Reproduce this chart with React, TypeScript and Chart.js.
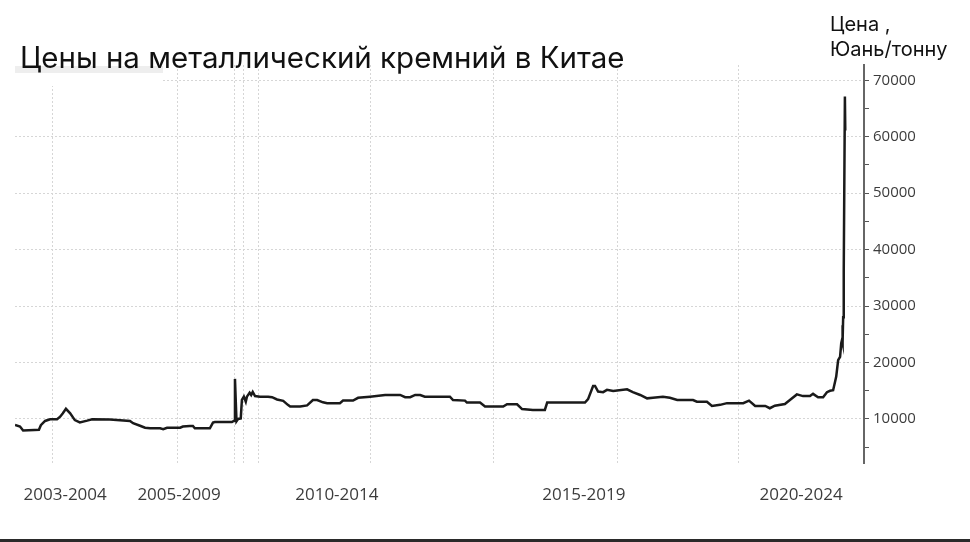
import { useEffect, useRef } from "react"
import { Chart, registerables } from "chart.js"

Chart.register(...registerables)

// decimal years of each reading
const dates = [
  2003.0, 2003.13, 2003.21, 2003.5, 2003.62, 2003.67, 2003.78, 2003.91, 2004.09, 2004.17,
  2004.24, 2004.32, 2004.43, 2004.55, 2004.68, 2004.87, 2005.0, 2005.46, 2005.98, 2006.06,
  2006.24, 2006.37, 2006.5, 2006.76, 2006.84, 2006.94, 2007.28, 2007.35, 2007.53, 2007.61,
  2007.66, 2008.05, 2008.13, 2008.18, 2008.62, 2008.68, 2008.7, 2008.74, 2008.78, 2008.85,
  2008.88, 2008.93, 2008.98, 2009.01, 2009.08, 2009.12, 2009.16, 2009.22, 2009.35, 2009.56,
  2009.66, 2009.79, 2009.95, 2010.07, 2010.13, 2010.39, 2010.57, 2010.72, 2010.83, 2010.98,
  2011.09, 2011.42, 2011.5, 2011.76, 2011.89, 2012.2, 2012.59, 2012.98, 2013.11, 2013.24,
  2013.37, 2013.5, 2013.62, 2014.27, 2014.35, 2014.66, 2014.71, 2015.05, 2015.18, 2015.65,
  2015.75, 2016.01, 2016.14, 2016.42, 2016.73, 2016.79, 2017.77, 2017.85, 2017.98, 2018.03,
  2018.11, 2018.24, 2018.34, 2018.5, 2018.86, 2019.01, 2019.2, 2019.38, 2019.53, 2019.79,
  2019.97, 2020.16, 2020.57, 2020.67, 2020.93, 2021.06, 2021.27, 2021.45, 2021.87, 2022.02,
  2022.18, 2022.44, 2022.56, 2022.69, 2022.95, 2023.08, 2023.26, 2023.42, 2023.6, 2023.68,
  2023.81, 2023.94, 2024.04, 2024.12, 2024.2, 2024.25, 2024.28, 2024.33, 2024.38, 2024.41,
  2024.43, 2024.44, 2024.45, 2024.46, 2024.47, 2024.48, 2024.505, 2024.515,
]

// юань за тонну
const prices = [
  8950, 8650, 7950, 8050, 8100, 8900, 9650, 9950, 9950, 10400,
  11000, 11800, 11000, 9800, 9400, 9700, 9950, 9900, 9650, 9250,
  8800, 8450, 8350, 8350, 8200, 8450, 8450, 8650, 8750, 8750,
  8350, 8350, 9350, 9450, 9450, 9700, 17100, 9600, 10000, 10100,
  13400, 13950, 13050, 13950, 14650, 14250, 14800, 14050, 13950, 13950,
  13850, 13450, 13200, 12500, 12200, 12200, 12400, 13350, 13350, 12950,
  12800, 12800, 13250, 13250, 13750, 13950, 14250, 14250, 13850, 13850,
  14250, 14250, 13950, 13950, 13350, 13250, 12900, 12900, 12200, 12200,
  12600, 12600, 11750, 11600, 11600, 12900, 12900, 13500, 15850, 15850,
  14850, 14750, 15150, 14950, 15250, 14750, 14250, 13650, 13750, 13950,
  13750, 13350, 13350, 13050, 13050, 12300, 12500, 12800, 12800, 13250,
  12300, 12300, 11900, 12350, 12650, 13350, 14350, 14050, 14050, 14450,
  13850, 13850, 14750, 15000, 15100, 16600, 17500, 20400, 21000, 23400,
  24000, 26600, 23500, 28000, 30000, 36300, 67100, 61100,
]

const gridYears = [2003.98, 2007.2, 2008.7, 2008.91, 2009.32, 2012.2, 2015.39, 2018.6, 2021.76]
const labelYears = [2004.3, 2007.25, 2011.34, 2017.74, 2023.37]
const periodLabels = ["2003-2004", "2005-2009", "2010-2014", "2015-2019", "2020-2024"]
const priceTicks = [
  5000, 10000, 15000, 20000, 25000, 30000, 35000, 40000, 45000, 50000, 55000, 60000, 65000, 70000,
]

const title = "Цены на металлический кремний в Китае"
const unitLines = ["Цена ,", "Юань/тонну"]

export default function App() {
  const canvasRef = useRef<HTMLCanvasElement>(null)
  const chartRef = useRef<Chart | null>(null)

  useEffect(() => {
    if (!canvasRef.current) return
    if (chartRef.current) chartRef.current.destroy()
    const ctx = canvasRef.current.getContext("2d")
    if (!ctx) return

    chartRef.current = new Chart(ctx, {
      type: "line",
      data: {
        datasets: [
          {
            data: dates.map((d, i) => ({ x: d, y: prices[i] })),
            borderColor: "#1a1a1a",
            borderWidth: 2.5,
            pointRadius: 0,
            tension: 0,
            fill: false,
          },
        ],
      },
      options: {
        animation: false,
        responsive: true,
        maintainAspectRatio: false,
        layout: { padding: { left: 15, top: 65, right: 0, bottom: 0 } },
        plugins: { legend: { display: false }, tooltip: { enabled: false } },
        scales: {
          x: {
            type: "linear",
            min: 2003,
            max: 2025,
            position: "bottom",
            afterBuildTicks: (s: any) => {
              s.ticks = gridYears.map((v) => ({ value: v }))
            },
            afterFit: (s: any) => {
              s.height = 0
            },
            ticks: { display: false },
            grid: { color: "#d6d6d6", lineWidth: 1, drawTicks: false },
            border: { display: false, dash: [2, 2] },
          },
          xLabels: {
            type: "linear",
            min: 2003,
            max: 2025,
            position: "bottom",
            afterBuildTicks: (s: any) => {
              s.ticks = labelYears.map((v) => ({ value: v }))
            },
            afterFit: (s: any) => {
              s.height = 79
            },
            ticks: {
              autoSkip: false,
              maxRotation: 0,
              padding: 22,
              color: "#3c3c3c",
              font: { family: "Open Sans", size: 17 },
              callback: (_v: any, i: number) => periodLabels[i],
            },
            grid: { display: false, drawTicks: false },
            border: { display: false },
          },
          y: {
            type: "linear",
            position: "right",
            min: 2200,
            max: 72700,
            afterBuildTicks: (s: any) => {
              s.ticks = priceTicks.map((v) => ({ value: v }))
            },
            afterFit: (s: any) => {
              s.width = 106
            },
            ticks: {
              autoSkip: false,
              padding: 4,
              color: "#3c3c3c",
              font: { family: "Open Sans", size: 15 },
              callback: (v: any) => (v % 10000 === 0 ? String(v) : ""),
            },
            grid: {
              color: (c: any) => (c.tick && c.tick.value % 10000 === 0 ? "#d6d6d6" : "transparent"),
              tickColor: "#555",
              tickLength: 5,
              lineWidth: 1,
            },
            border: { display: true, color: "#666", width: 2, dash: [2, 2] },
          },
        },
      },
    })

    return () => {
      if (chartRef.current) {
        chartRef.current.destroy()
        chartRef.current = null
      }
    }
  }, [])

  return (
    <div
      style={{
        position: "absolute",
        left: 0,
        top: 0,
        width: 970,
        height: 542,
        background: "#fff",
        overflow: "hidden",
        fontFamily: "Inter, 'Noto Sans', sans-serif",
      }}
    >
      <canvas ref={canvasRef} />
      <div style={{ position: "absolute", left: 15, top: 66, width: 148, height: 20, background: "#fff" }}>
        <div style={{ height: 7, background: "#eeeeee" }} />
      </div>
      <div
        style={{
          position: "absolute",
          left: 20,
          top: 42,
          fontSize: 29.5,
          lineHeight: "30px",
          color: "#111",
          whiteSpace: "nowrap",
        }}
      >
        {title}
      </div>
      <div
        style={{
          position: "absolute",
          left: 830,
          top: 12,
          fontSize: 20,
          lineHeight: "25px",
          color: "#111",
          whiteSpace: "nowrap",
        }}
      >
        {unitLines.map((t) => (
          <div key={t}>{t}</div>
        ))}
      </div>
      <div style={{ position: "absolute", left: 0, top: 539, width: 970, height: 3, background: "#2a2a2a" }} />
    </div>
  )
}
